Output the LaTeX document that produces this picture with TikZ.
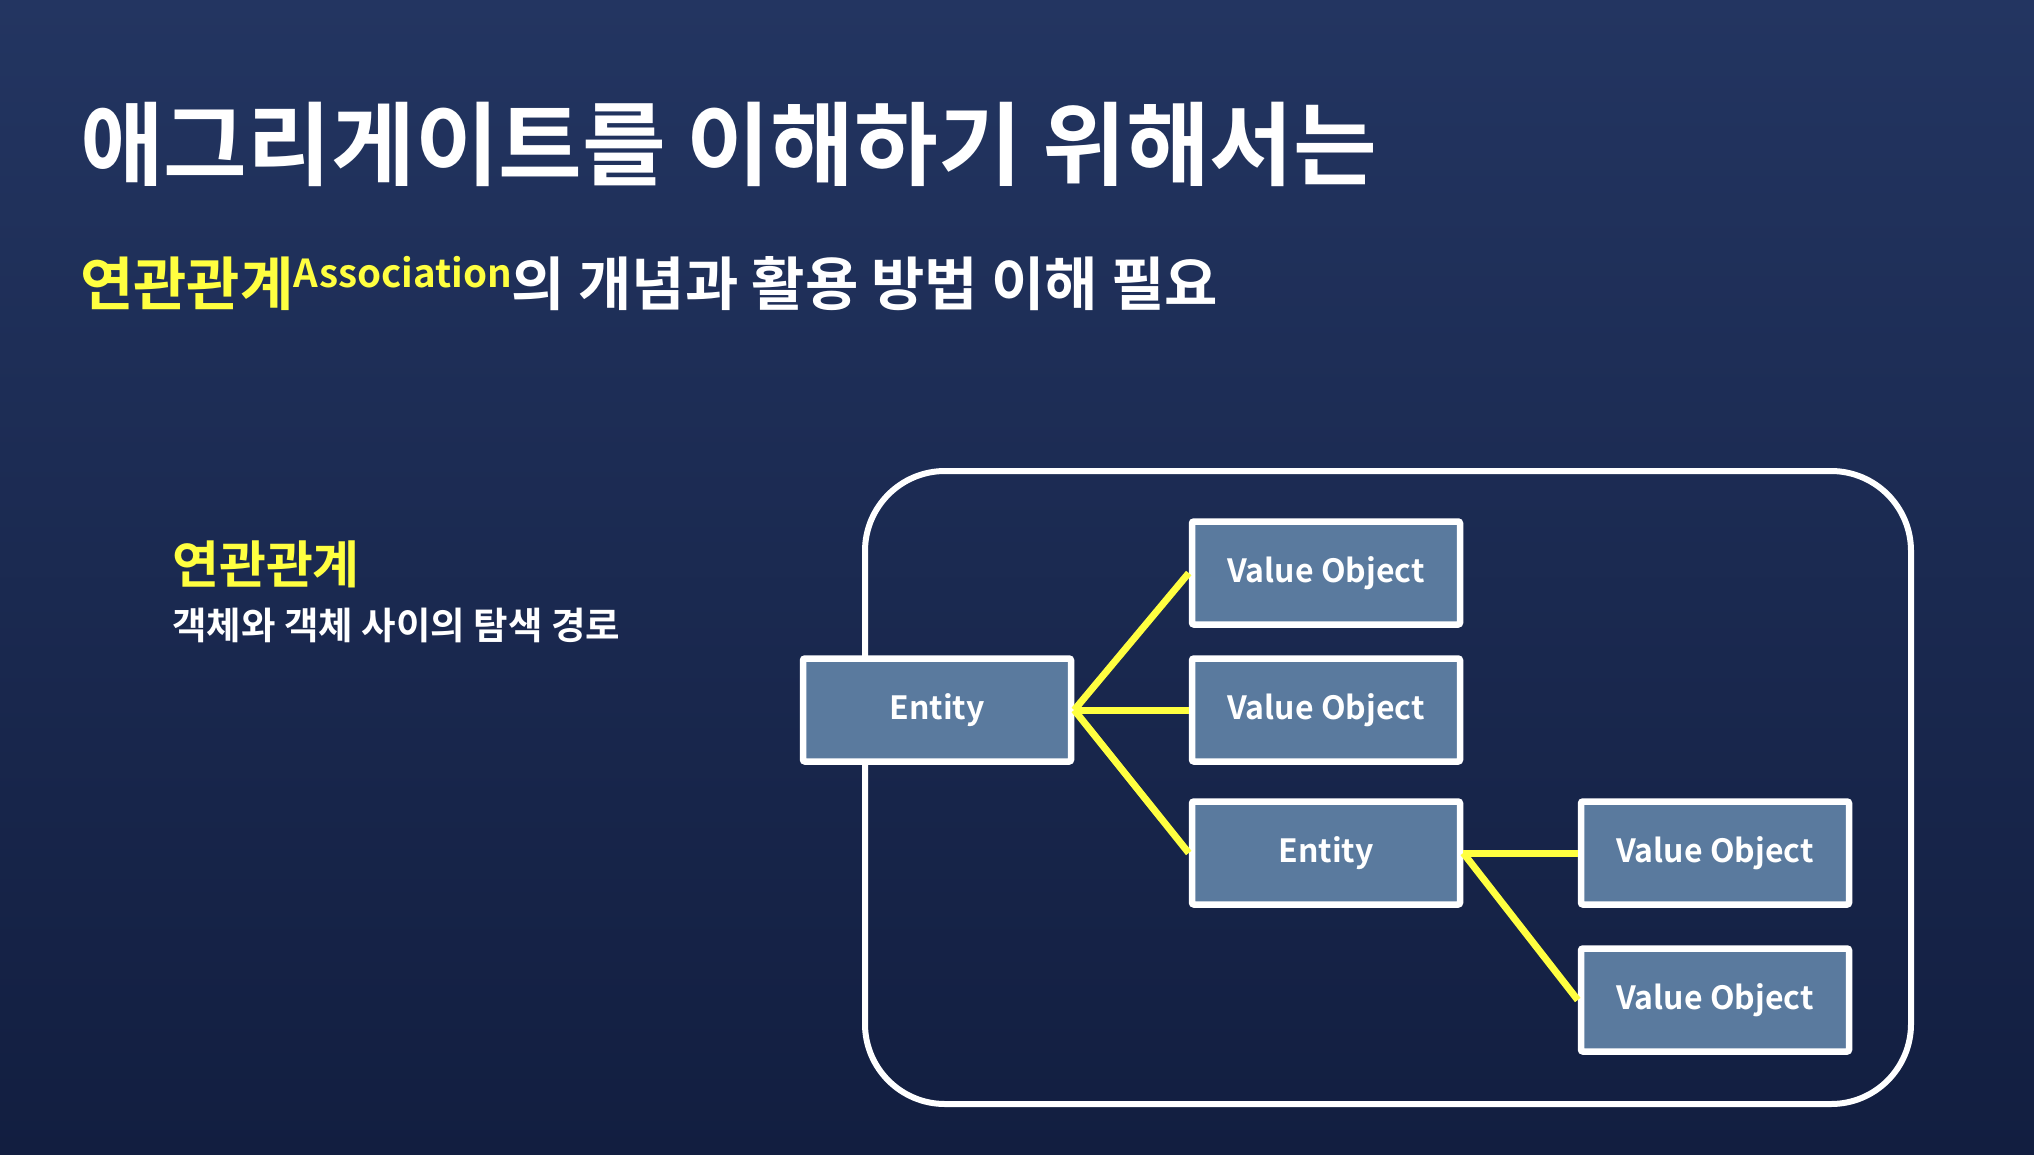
\documentclass[tikz,border=0pt]{standalone}
\usepackage{fontspec}
\usepackage{graphicx}
\setmainfont{Noto Sans CJK KR}[BoldFont={Noto Sans CJK KR Bold}]
\newfontfamily\kfont{Noto Sans CJK KR Bold}
\definecolor{bgtop}{RGB}{35,53,97}
\definecolor{bgbot}{RGB}{18,30,64}
\definecolor{hl}{RGB}{255,255,64}
\definecolor{boxfill}{RGB}{90,122,158}
\tikzset{
  objbox/.style={draw=white, line width=6.5pt, fill=boxfill, rounded corners=2pt,
    minimum width=268pt, minimum height=103pt, inner sep=0pt,
    font=\kfont\fontsize{32}{32}\selectfont, text=white},
  link/.style={draw=hl, line width=7pt},
  txt/.style={inner sep=0pt, anchor=base west}
}
\begin{document}
\begin{tikzpicture}[x=1pt,y=-1pt]
\shade[top color=bgtop, bottom color=bgbot] (0,0) rectangle (2034,1154);
\useasboundingbox (0,0) rectangle (2034,1154);
% title
\node[txt, text=white] (title) at (80,178)
  {\kfont\fontsize{91}{91}\selectfont 애그리게이트를 이해하기 위해서는};
\node[txt] (sub) at (80,305)
  {\kfont\fontsize{58}{58}\selectfont\color{hl}연관관계\raisebox{18pt}{\fontsize{38.5}{38.5}\selectfont Association}\color{white}의 개념과 활용 방법 이해 필요};
% left text
\node[txt, text=hl] (assoc) at (172,583)
  {\kfont\fontsize{51}{51}\selectfont 연관관계};
\node[txt, text=white] (desc) at (172,639)
  {\kfont\fontsize{37.5}{37.5}\selectfont 객체와 객체 사이의 탐색 경로};
% container
\draw[white, line width=6pt, rounded corners=80pt] (865,471) rectangle (1911,1104);
% boxes
\node[objbox] (e1) at (937,710) {Entity};
\node[objbox] (v1) at (1326,573) {Value Object};
\node[objbox] (v2) at (1326,710) {Value Object};
\node[objbox] (e2) at (1326,853) {Entity};
\node[objbox] (v3) at (1715,853) {Value Object};
\node[objbox] (v4) at (1715,1000) {Value Object};
% links
\draw[link] (e1.east) -- (v1.west);
\draw[link] (e1.east) -- (v2.west);
\draw[link] (e1.east) -- (e2.west);
\draw[link] (e2.east) -- (v3.west);
\draw[link] (e2.east) -- (v4.west);
\end{tikzpicture}
\end{document}
